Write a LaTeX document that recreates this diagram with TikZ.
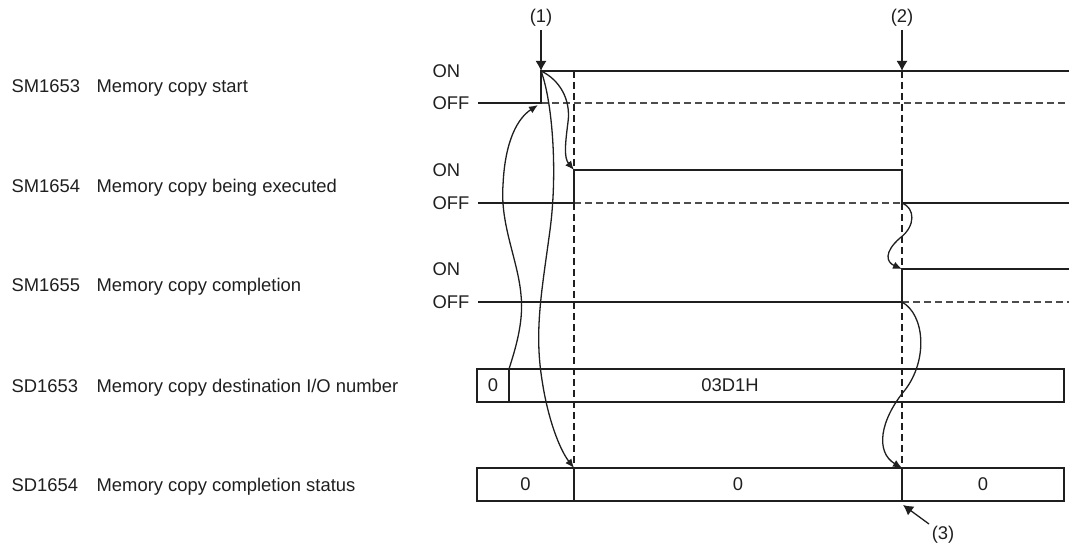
\documentclass[tikz,border=0pt]{standalone}
\usepackage{fontspec}
\setmainfont{Liberation Sans}
\usetikzlibrary{arrows.meta}
\begin{document}
\begin{tikzpicture}[x=0.5pt,y=-0.5pt,
  line width=0.65pt,
  color=black!88,
  txt/.style={font=\fontsize{9.2}{11}\selectfont, inner sep=0pt, text=black!88},
  dsh/.style={dash pattern=on 3.5pt off 2pt, line width=0.65pt},
  dshg/.style={dash pattern=on 3.5pt off 2pt, line width=0.65pt, draw=black!70},
  tip/.style={-{Latex[length=4.5pt,width=3.8pt]}},
  bigtip/.style={-{Latex[length=5pt,width=5.5pt]}},
]
\useasboundingbox (0,0) rectangle (1069,550);

% ---- row labels
\node[txt,anchor=base west] (l1a) at (11,93) {SM1653};
\node[txt,anchor=base west] (l1b) at (96,93) {Memory copy start};
\node[txt,anchor=base west] (l2a) at (11,193) {SM1654};
\node[txt,anchor=base west] (l2b) at (96,193) {Memory copy being executed};
\node[txt,anchor=base west] (l3a) at (11,292) {SM1655};
\node[txt,anchor=base west] (l3b) at (96,292) {Memory copy completion};
\node[txt,anchor=base west] (l4a) at (11,392) {SD1653};
\node[txt,anchor=base west] (l4b) at (96,392) {Memory copy destination I/O number};
\node[txt,anchor=base west] (l5a) at (11,491) {SD1654};
\node[txt,anchor=base west] (l5b) at (96,491) {Memory copy completion status};

% ---- ON / OFF
\node[txt,anchor=base west] (on1) at (432,77.5) {ON};
\node[txt,anchor=base west] (off1) at (432,110) {OFF};
\node[txt,anchor=base west] (on2) at (432,177) {ON};
\node[txt,anchor=base west] (off2) at (432,209.5) {OFF};
\node[txt,anchor=base west] (on3) at (432,276) {ON};
\node[txt,anchor=base west] (off3) at (432,308.5) {OFF};

% ---- key coordinates
\coordinate (s1a) at (478,103);
\coordinate (s1r) at (541,103);
\coordinate (s1t) at (541,71);
\coordinate (s1e) at (1069,71);
\coordinate (s1d) at (1069,103);

\coordinate (s2a) at (478,203);
\coordinate (s2r) at (574,203);
\coordinate (s2t) at (574,170);
\coordinate (s2f) at (902,170);
\coordinate (s2b) at (902,203);
\coordinate (s2e) at (1069,203);

\coordinate (s3a) at (478,302);
\coordinate (s3r) at (902,302);
\coordinate (s3t) at (902,269);
\coordinate (s3e) at (1069,269);
\coordinate (s3d) at (1069,302);

\coordinate (v1top) at (574,71);
\coordinate (v2top) at (902,71);
\coordinate (d1) at (509,369);
\coordinate (d2) at (574,468);
\coordinate (d3) at (902,468);

% ---- dashed guides
\draw[dsh] (v1top) -- (d2);
\draw[dsh] (v2top) -- (d3);
\draw[dshg] (s1r) -- (s1d);
\draw[dshg] (s2r) -- (s2b);
\draw[dshg] (s3r) -- (s3d);

% ---- signals
\draw (s1a) -- (s1r) -- (s1t) -- (s1e);
\draw (s2a) -- (s2r) -- (s2t) -- (s2f) -- (s2b) -- (s2e);
\draw (s3a) -- (s3r) -- (s3t) -- (s3e);

% ---- data boxes
\draw (477,369) rectangle (1064,402);
\draw (d1) -- (509,402);
\node[txt] (b1a) at (493,385.5) {0};
\node[txt] (b1b) at (730,385.5) {03D1H};

\draw (477,468) rectangle (1064,501);
\draw (d2) -- (574,501);
\draw (d3) -- (902,501);
\node[txt] (b2a) at (525.5,484.5) {0};
\node[txt] (b2b) at (738,484.5) {0};
\node[txt] (b2c) at (983,484.5) {0};

% ---- markers (1) (2) (3)
\node[txt] (n1) at (541,18) {(1)};
\node[txt] (n2) at (902,18) {(2)};
\node[txt] (n3) at (943,535) {(3)};
\coordinate (n1s) at (541,30);
\coordinate (n2s) at (902,30);
\coordinate (n3s) at (929,524);
\coordinate (n3e) at (903,505);
\draw[bigtip] (n1s) -- (s1t);
\draw[bigtip] (n2s) -- (v2top);
\draw[bigtip] (n3s) -- (n3e);

% ---- causal curves
\coordinate (cA) at (538,105);
\draw[tip] (d1) .. controls (515,350) and (524,322) .. (521,295)
  .. controls (518,260) and (500,225) .. (503,185)
  .. controls (505,140) and (518,118) .. (cA);
\draw[tip] (s1t) .. controls (552,100) and (558,170) .. (550,230)
  .. controls (542,290) and (534,330) .. (542,380)
  .. controls (548,420) and (560,450) .. (d2);
\draw[tip] (s1t) .. controls (560,80) and (571,100) .. (568,122)
  .. controls (565,145) and (564,158) .. (s2t);
\draw[tip] (s2b) .. controls (915,208) and (916,226) .. (900,238)
  .. controls (884,252) and (886,262) .. (s3t);
\draw[tip] (s3r) .. controls (925,315) and (928,360) .. (905,390)
  .. controls (880,420) and (875,452) .. (d3);

\end{tikzpicture}
\end{document}
